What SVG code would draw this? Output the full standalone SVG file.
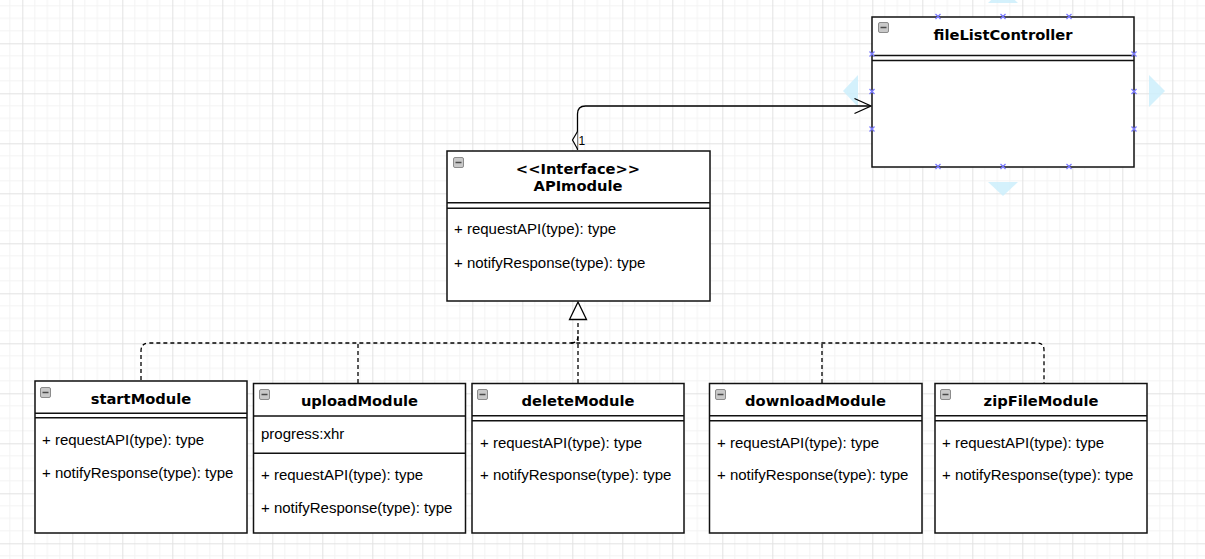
<svg xmlns="http://www.w3.org/2000/svg" width="1205" height="559" viewBox="0 0 1205 559">
<style>
.box{fill:#fff;stroke:#111;stroke-width:1.5}
.sep{stroke:#111;stroke-width:1.5;fill:none}
.title{font-family:"DejaVu Sans",Verdana,sans-serif;font-weight:bold;font-size:14.7px;fill:#000;text-anchor:middle}
.m{font-family:"Liberation Sans",Arial,sans-serif;font-size:15px;fill:#000}
.edge{fill:none;stroke:#000;stroke-width:1.3}
.dash{fill:none;stroke:#000;stroke-width:1.3;stroke-dasharray:4 3}
.hx{stroke:#7b7bff;stroke-width:1.3}
.hint{fill:#cdeefb;opacity:0.85}
</style>
<defs>
<pattern id="grid" x="22.3" y="43.3" width="50" height="50" patternUnits="userSpaceOnUse">
<path d="M12.5 0V50M25 0V50M37.5 0V50M0 12.5H50M0 25H50M0 37.5H50" stroke="#f3f3f3" stroke-width="1"/>
<path d="M0.5 0V50M0 0.5H50" stroke="#e2e2e2" stroke-width="1"/>
</pattern>
<g id="minus">
<rect x="0.5" y="0.5" width="10" height="10" rx="1.5" fill="#c9c9c9" stroke="#8c8c8c"/>
<path d="M2.5 5.5H8.5" stroke="#4a4a4a" stroke-width="1.5"/>
</g>
</defs>
<rect width="1205" height="559" fill="#fff"/>
<rect width="1205" height="559" fill="url(#grid)"/>

<!-- selection hints -->
<g id="hints">
<polygon class="hint" points="988,3 1018,3 1003,-11"/>
<polygon class="hint" points="988,182 1018,182 1003,196"/>
<polygon class="hint" points="858,75 858,107 843,91"/>
<polygon class="hint" points="1149,75 1149,107 1165,91"/>
</g>

<g id="connectors">
<path class="edge" d="M577.5 150V114Q577.5 106 585.5 106H870"/>
<path class="edge" d="M854.5 98.5L871 106L854.5 113.5"/>
<path d="M577.5 131.5L572.5 140L577.5 149" fill="#fff" stroke="#000" stroke-width="1.2"/>
<text x="578.5" y="145" font-family="Liberation Sans,Arial,sans-serif" font-size="12" fill="#000">1</text>
<path class="dash" d="M141 380V351Q141 343 149 343H1037Q1044 343 1044 350V383"/>
<path class="dash" d="M358 383V343"/>
<path class="dash" d="M822 383V343"/>
<path class="dash" d="M578 383V320"/>
<path class="dash" d="M571 343Q578 343 578 336"/>
<path d="M578 302L569.5 319.5H586.5Z" fill="#fff" stroke="#000" stroke-width="1.3"/>
</g>

<g id="fileListController">
<rect class="box" x="872" y="17" width="262" height="150"/>
<path class="sep" d="M872 55.5H1134M872 60.5H1134"/>
<use href="#minus" x="878" y="22"/>
<text class="title" x="1003" y="40">fileListController</text>
<g class="hx">
<path d="M935.5 14l5 5m0-5l-5 5M1000.5 14l5 5m0-5l-5 5M1066.5 14l5 5m0-5l-5 5"/>
<path d="M935.5 164l5 5m0-5l-5 5M1000.5 164l5 5m0-5l-5 5M1066.5 164l5 5m0-5l-5 5"/>
<path d="M869.5 51.5l5 5m0-5l-5 5M869.5 89l5 5m0-5l-5 5M869.5 126.5l5 5m0-5l-5 5"/>
<path d="M1131.5 51.5l5 5m0-5l-5 5M1131.5 89l5 5m0-5l-5 5M1131.5 126.5l5 5m0-5l-5 5"/>
</g>
</g>

<g id="APImodule">
<rect class="box" x="447" y="151" width="263" height="150"/>
<path class="sep" d="M447 202.7H710M447 208.3H710"/>
<use href="#minus" x="453" y="157"/>
<text class="title" x="578" y="174">&lt;&lt;Interface&gt;&gt;</text>
<text class="title" x="578" y="191">APImodule</text>
<text class="m" x="454" y="234">+ requestAPI(type): type</text>
<text class="m" x="454" y="267.5">+ notifyResponse(type): type</text>
</g>

<g id="startModule">
<rect class="box" x="35" y="381" width="212" height="152"/>
<path class="sep" d="M35 413.3H247M35 417.7H247"/>
<use href="#minus" x="40" y="387"/>
<text class="title" x="141" y="403.5">startModule</text>
<text class="m" x="42" y="445">+ requestAPI(type): type</text>
<text class="m" x="42" y="478">+ notifyResponse(type): type</text>
</g>

<g id="uploadModule">
<rect class="box" x="253.5" y="383.5" width="212" height="149.5"/>
<path class="sep" d="M253.5 416H465.5M253.5 453.3H465.5"/>
<use href="#minus" x="259" y="389"/>
<text class="title" x="359.5" y="405.5">uploadModule</text>
<text class="m" x="261" y="438.5">progress:xhr</text>
<text class="m" x="261" y="479.5">+ requestAPI(type): type</text>
<text class="m" x="261" y="512.5">+ notifyResponse(type): type</text>
</g>

<g id="deleteModule">
<rect class="box" x="472" y="383.5" width="212" height="149.5"/>
<path class="sep" d="M472 415.7H684M472 420.7H684"/>
<use href="#minus" x="477" y="389"/>
<text class="title" x="578" y="405.5">deleteModule</text>
<text class="m" x="480" y="447.5">+ requestAPI(type): type</text>
<text class="m" x="480" y="479.5">+ notifyResponse(type): type</text>
</g>

<g id="downloadModule">
<rect class="box" x="709.5" y="383.5" width="212.5" height="149.5"/>
<path class="sep" d="M709.5 415.7H922M709.5 420.7H922"/>
<use href="#minus" x="715" y="389"/>
<text class="title" x="815.5" y="405.5">downloadModule</text>
<text class="m" x="717" y="447.5">+ requestAPI(type): type</text>
<text class="m" x="717" y="479.5">+ notifyResponse(type): type</text>
</g>

<g id="zipFileModule">
<rect class="box" x="935" y="383.5" width="212" height="149.5"/>
<path class="sep" d="M935 415.7H1147M935 420.7H1147"/>
<use href="#minus" x="940" y="389"/>
<text class="title" x="1041" y="405.5">zipFileModule</text>
<text class="m" x="942" y="447.5">+ requestAPI(type): type</text>
<text class="m" x="942" y="480">+ notifyResponse(type): type</text>
</g>
</svg>
